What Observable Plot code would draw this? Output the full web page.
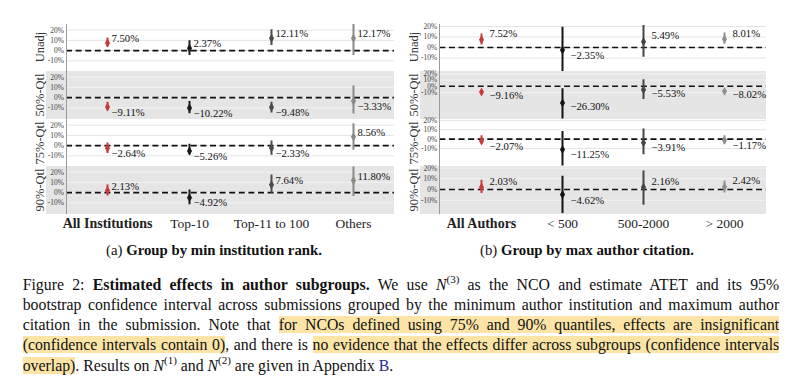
<!DOCTYPE html>
<html><head><meta charset="utf-8">
<script src="https://cdn.jsdelivr.net/npm/d3@7"></script>
<script src="https://cdn.jsdelivr.net/npm/@observablehq/plot@0.6"></script>
<style>
body{margin:0;background:#fff;}
#fig{position:relative;width:800px;height:383px;overflow:hidden;font-family:"Liberation Serif","Times New Roman",serif;color:#111;}
.bg{position:absolute;background:#e5e5e5;}
.vline{position:absolute;width:1px;background:#9a9a9a;}
.rowlab{position:absolute;transform:translate(-50%,-50%) rotate(-90deg);white-space:nowrap;font-size:12.5px;color:#333;}
.sub{position:absolute;transform:translate(-50%,-50%);white-space:nowrap;font-size:14.8px;}
.cap{position:absolute;left:22.7px;width:756.5px;font-size:15.8px;line-height:20.3px;height:20.3px;text-align:justify;text-align-last:justify;}
.cap.last{text-align:left;text-align-last:left;}
.hl{background:#fbe4a6;}
.m{font-style:italic;}
.sp{font-size:11px;position:relative;top:-6.5px;}
.fac{position:absolute;}
</style></head>
<body>
<div id="fig"></div>
<script>
// ---------- data (percent) ----------
const rowLabels = ["Unadj", "50%-Qtl", "75%-Qtl", "90%-Qtl"];
const catsA = ["All Institutions", "Top-10", "Top-11 to 100", "Others"];
const catsB = ["All Authors", "< 500", "500-2000", "> 2000"];
const yTicks = [-0.1, 0, 0.1, 0.2];

// (a) Group by min institution rank: estimate, CI low, CI high
const estA_unadj = [7.50, 2.37, 12.11, 12.17];
const loA_unadj  = [3.2, -4.9, 4.9, -4.9];
const hiA_unadj  = [12.2, 9.7, 20.4, 25.5];
const estA_q50 = [-9.11, -10.22, -9.48, -3.33];
const loA_q50  = [-12.9, -15.8, -15.1, -16.1];
const hiA_q50  = [-4.5, -3.9, -4.5, 11.4];
const estA_q75 = [-2.64, -5.26, -2.33, 8.56];
const loA_q75  = [-7.8, -9.3, -9.5, -4.5];
const hiA_q75  = [2.6, 1.4, 4.6, 21.4];
const estA_q90 = [2.13, -4.92, 7.64, 11.80];
const loA_q90  = [-3.2, -11.9, -0.6, -3.9];
const hiA_q90  = [7.5, 2.6, 17.2, 25.0];

// (b) Group by max author citation
const estB_unadj = [7.52, -2.35, 5.49, 8.01];
const loB_unadj  = [2.4, -23.5, -9.2, 3.1];
const hiB_unadj  = [12.8, 19.2, 20.9, 13.8];
const estB_q50 = [-9.16, -26.30, -5.53, -8.02];
const loB_q50  = [-11.8, -53.0, -21.1, -10.8];
const hiB_q50  = [-6.6, -3.7, 10.6, -5.2];
const estB_q75 = [-2.07, -11.25, -3.91, -1.17];
const loB_q75  = [-5.3, -28.7, -16.9, -5.4];
const hiB_q75  = [3.5, 8.2, 10.8, 3.5];
const estB_q90 = [2.03, -4.62, 2.16, 2.42];
const loB_q90  = [-3.7, -22.4, -14.7, -3.2];
const hiB_q90  = [8.7, 12.4, 17.4, 8.0];

// ---------- styles / layout ----------
const colorsA = ["#c83a3b", "#1b1b1b", "#4b4b4b", "#8a8a8a"];
const colorsB = ["#c83a3b", "#141414", "#454545", "#909090"];
const FONT = "'Liberation Serif','Times New Roman',serif";
const ROW_TOP = 23.5, ROW_H = 47.6;

const panels = [
  {cats: catsA, colors: colorsA, left: 46, width: 348, marginLeft: 20, labelDx: 4, rowLabX: 40,
   offPos: 0.042, offNeg: 0.052,
   rows: [[estA_unadj, loA_unadj, hiA_unadj], [estA_q50, loA_q50, hiA_q50], [estA_q75, loA_q75, hiA_q75], [estA_q90, loA_q90, hiA_q90]],
   domains: [[-0.21, 0.255], [-0.21, 0.255], [-0.21, 0.255], [-0.21, 0.255]],
   sub: ["(a) ", "Group by min institution rank."], subX: 214},
  {cats: catsB, colors: colorsB, left: 420, width: 346, marginLeft: 19.3, labelDx: 8, rowLabX: 414,
   offPos: 0.056, offNeg: 0.056,
   rows: [[estB_unadj, loB_unadj, hiB_unadj], [estB_q50, loB_q50, hiB_q50], [estB_q75, loB_q75, hiB_q75], [estB_q90, loB_q90, hiB_q90]],
   domains: [[-0.233, 0.219], [-0.52, 0.235], [-0.30, 0.21], [-0.229, 0.215]],
   sub: ["(b) ", "Group by max author citation."], subX: 587}
];

const fig = document.getElementById("fig");
const pct = d3.format(".2%");

panels.forEach(p => {
  p.rows.forEach(([est, lo, hi], r) => {
    const top = ROW_TOP + r * ROW_H;
    const gray = r % 2 === 1;
    if (gray) {
      const bg = document.createElement("div");
      bg.className = "bg";
      Object.assign(bg.style, {left: p.left + "px", top: top + "px", width: p.width + "px", height: ROW_H + "px"});
      fig.appendChild(bg);
    }
    const data = p.cats.map((c, i) => ({cat: c, est: est[i] / 100, lo: lo[i] / 100, hi: hi[i] / 100}));
    const last = r === p.rows.length - 1;
    const marks = [
      Plot.gridY(yTicks, {stroke: gray ? "#f3f3f3" : "#e4e4e4", strokeOpacity: 1, strokeWidth: 1}),
      Plot.axisY(yTicks, {tickSize: 0, tickPadding: 2.5, fontSize: 7.5, fill: "#444", label: null, fontFamily: FONT,
        tickFormat: d => Math.round(d * 100) + "%"}),
      Plot.ruleY([0], {stroke: "#111", strokeWidth: 1.6, strokeDasharray: "6,3.6"}),
      Plot.ruleX(data, {x: "cat", y1: "lo", y2: "hi", stroke: "cat", strokeWidth: 2, clip: true}),
      Plot.dot(data, {x: "cat", y: "est", fill: "cat", symbol: "diamond", r: 2.7, stroke: null}),
      Plot.text(data, {x: "cat", y: d => d.est + (d.est >= 0 ? p.offPos : -p.offNeg),
        text: d => pct(d.est), textAnchor: "start", dx: p.labelDx, fontSize: 10.7, fill: "#111", fontFamily: FONT})
    ];
    if (last) {
      marks.push(Plot.axisX(p.cats.slice(0, 1), {tickSize: 0, tickPadding: 4, fontSize: 14, fontWeight: "bold", fill: "#222", label: null, fontFamily: FONT}));
      marks.push(Plot.axisX(p.cats.slice(1), {tickSize: 0, tickPadding: 4, fontSize: 13.5, fill: "#222", label: null, fontFamily: FONT}));
    }
    const svg = Plot.plot({
      width: p.width,
      height: ROW_H + (last ? 24 : 0),
      marginLeft: p.marginLeft, marginRight: 0, marginTop: 0, marginBottom: last ? 24 : 0,
      style: {background: "transparent", overflow: "visible", fontFamily: FONT},
      x: {type: "point", domain: p.cats, padding: 0.5, axis: last ? undefined : null, label: null},
      y: {domain: p.domains[r], label: null},
      color: {domain: p.cats, range: p.colors},
      marks
    });
    svg.classList.add("fac");
    Object.assign(svg.style, {left: p.left + "px", top: top + "px", position: "absolute"});
    fig.appendChild(svg);

    const lab = document.createElement("div");
    lab.className = "rowlab";
    lab.textContent = rowLabels[r];
    Object.assign(lab.style, {left: p.rowLabX + "px", top: (top + ROW_H / 2) + "px"});
    fig.appendChild(lab);
  });
  // y axis line
  const vl = document.createElement("div");
  vl.className = "vline";
  Object.assign(vl.style, {left: (p.left + p.marginLeft - 0.5) + "px", top: ROW_TOP + "px", height: (ROW_H * 4) + "px"});
  fig.appendChild(vl);
  // sub caption
  const sub = document.createElement("div");
  sub.className = "sub";
  sub.innerHTML = p.sub[0] + "<b>" + p.sub[1] + "</b>";
  Object.assign(sub.style, {left: p.subX + "px", top: "250px"});
  fig.appendChild(sub);
});

// ---------- caption ----------
const capLines = [
  'Figure 2: <b>Estimated effects in author subgroups.</b> We use <span class="m">N</span><span class="sp">(3)</span> as the NCO and estimate ATET and its 95%',
  'bootstrap confidence interval across submissions grouped by the minimum author institution and maximum author',
  'citation in the submission. Note that <span class="hl">for NCOs defined using 75% and 90% quantiles, effects are insignificant</span>',
  '<span class="hl">(confidence intervals contain 0)</span>, and there is <span class="hl">no evidence that the effects differ across subgroups (confidence intervals</span>',
  '<span class="hl">overlap)</span>. Results on <span class="m">N</span><span class="sp">(1)</span> and <span class="m">N</span><span class="sp">(2)</span> are given in Appendix <span style="color:#2b2b9c">B</span>.'
];
capLines.forEach((h, i) => {
  const d = document.createElement("div");
  d.className = "cap" + (i === capLines.length - 1 ? " last" : "");
  d.innerHTML = h;
  d.style.top = (274.5 + i * 20.3) + "px";
  fig.appendChild(d);
});
</script>
</body></html>
